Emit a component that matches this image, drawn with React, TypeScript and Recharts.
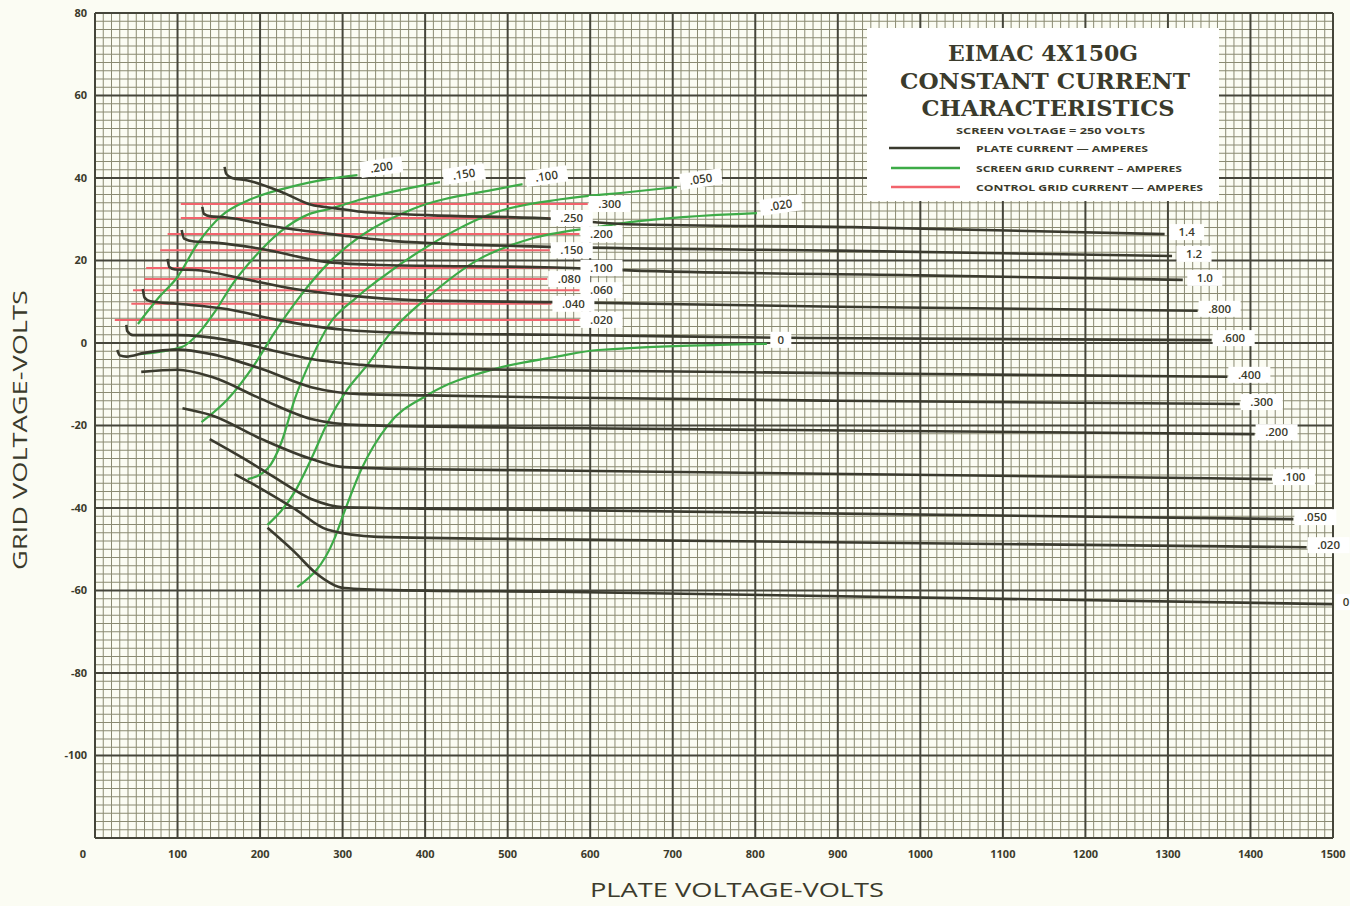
import React from 'react'
import { ComposedChart, Line, XAxis, YAxis, ReferenceLine, ReferenceDot } from 'recharts'

type Pt = [number, number]

// axis ticks
const X_TICKS = [0, 100, 200, 300, 400, 500, 600, 700, 800, 900, 1000, 1100, 1200, 1300, 1400, 1500]
const Y_TICKS = [-100, -80, -60, -40, -20, 0, 20, 40, 60, 80]

// plate current curves (plate volts, grid volts)
const plate14: Pt[] = [[157, 42.7], [159, 41.0], [166, 40.0], [185, 39.4], [226, 36.6], [262, 33.5], [290, 32.7], [323, 31.8], [403, 31.0], [557, 30.1], [644, 28.8], [917, 28.1], [1296, 26.4]]
const plate12: Pt[] = [[130, 33.0], [132, 31.3], [140, 30.7], [157, 30.5], [221, 28.1], [294, 26.2], [363, 24.7], [557, 23.3], [900, 22.4], [1305, 21.1]]
const plate10: Pt[] = [[105, 27.4], [108, 25.3], [120, 24.6], [141, 24.4], [202, 22.8], [282, 19.6], [347, 18.9], [557, 18.3], [647, 17.6], [1000, 16.4], [1318, 15.3]]
const plate800: Pt[] = [[88, 20.4], [90, 18.4], [97, 17.8], [121, 17.7], [181, 15.5], [242, 13.1], [302, 11.6], [384, 10.4], [557, 9.9], [900, 8.8], [1336, 7.8]]
const plate600: Pt[] = [[58, 13.1], [60, 11.0], [67, 10.1], [100, 9.5], [161, 8.2], [221, 5.6], [302, 3.2], [403, 2.3], [557, 2.0], [864, 1.2], [1353, 0.7]]
const plate400: Pt[] = [[38, 4.4], [39, 2.9], [46, 1.9], [100, 1.9], [161, 0.7], [209, -1.5], [262, -3.9], [323, -5.3], [403, -6.1], [557, -6.6], [900, -7.3], [1372, -8.2]]
const plate300: Pt[] = [[27, -1.7], [30, -3.0], [38, -3.3], [60, -2.4], [100, -1.6], [141, -2.7], [202, -6.3], [262, -10.7], [323, -12.4], [403, -12.7], [557, -13.2], [900, -14.0], [1387, -14.8]]
const plate200: Pt[] = [[56, -7.0], [100, -6.5], [141, -8.2], [202, -13.6], [262, -18.4], [323, -19.9], [557, -20.6], [1405, -22.1]]
const plate100: Pt[] = [[106, -15.8], [141, -17.5], [202, -23.3], [262, -28.1], [302, -30.1], [403, -30.6], [557, -30.9], [1426, -33.0]]
const plate050: Pt[] = [[139, -23.3], [181, -28.1], [221, -33.0], [262, -37.8], [302, -39.8], [557, -40.5], [1452, -42.7]]
const plate020: Pt[] = [[169, -31.8], [202, -35.4], [242, -40.2], [282, -45.3], [342, -47.0], [557, -47.6], [1468, -49.5]]
const plate0: Pt[] = [[209, -44.8], [242, -50.7], [266, -55.5], [302, -59.4], [363, -59.9], [557, -60.3], [1500, -63.3]]

const plateLabels = ['1.4', '1.2', '1.0', '.800', '.600', '.400', '.300', '.200', '.100', '.050', '.020', '0']
const plateCurves = [plate14, plate12, plate10, plate800, plate600, plate400, plate300, plate200, plate100, plate050, plate020, plate0]

// screen grid current curves
const screen200: Pt[] = [[52, 4.6], [78, 11.2], [100, 16.0], [124, 24.0], [153, 30.8], [187, 34.7], [236, 37.8], [284, 39.8], [318, 40.7]]
const screen150: Pt[] = [[54, -2.7], [105, -1.0], [127, 2.7], [145, 7.5], [166, 14.1], [190, 20.1], [224, 26.9], [260, 31.3], [284, 32.5], [324, 34.9], [418, 39.0]]
const screen100: Pt[] = [[129, -19.2], [161, -13.6], [193, -5.3], [218, 2.7], [248, 11.2], [284, 19.6], [324, 26.2], [385, 32.5], [487, 37.3], [518, 38.5]]
const screen050: Pt[] = [[185, -33.0], [209, -30.5], [226, -24.0], [242, -13.6], [262, -3.9], [284, 4.6], [315, 10.7], [345, 15.5], [406, 23.8], [487, 31.8], [567, 34.9], [648, 36.6], [705, 37.8]]
const screen020: Pt[] = [[209, -44.1], [242, -36.1], [262, -28.1], [282, -19.2], [306, -11.2], [330, -5.3], [359, 2.7], [406, 11.6], [466, 20.4], [527, 25.2], [608, 28.1], [648, 29.3], [802, 31.5]]
const screen0: Pt[] = [[245, -59.2], [290, -47.5], [302, -41.0], [323, -30.5], [355, -19.9], [403, -12.6], [484, -6.3], [557, -3.4], [610, -1.7], [814, -0.2]]

const screenLabels = ['.200', '.150', '.100', '.050', '.020', '0']
const screenCurves = [screen200, screen150, screen100, screen050, screen020, screen0]

// control grid current: flat lines
const ctrlLabels = ['.300', '.250', '.200', '.150', '.100', '.080', '.060', '.040', '.020']
const ctrlGridVolts = [33.7, 30.3, 26.4, 22.5, 18.2, 15.5, 12.8, 9.5, 5.6]
const ctrlStart = [104, 104, 88, 79, 62, 60, 46, 44, 24]
const ctrlEnd = [597, 551, 587, 551, 587, 548, 587, 553, 587]

const INK = '#3b3b2c'
const GRID_MINOR = '#8a8a72'
const GRID_MAJOR = '#45453a'
const PLATE = '#3a3a2e'
const GREEN = '#3dab47'
const RED = '#f2636c'
const PAPER = '#fbfcf3'
const FONT = '"Open Sans", "DejaVu Sans", sans-serif'

const rows = (pts: Pt[]) => pts.map(([v, g]) => ({ v, g }))

const minorX = Array.from({ length: 151 }, (_, i) => i * 10).filter((v) => v % 100 !== 0)
const majorX = Array.from({ length: 16 }, (_, i) => i * 100)
const minorY = Array.from({ length: 101 }, (_, i) => -120 + i * 2).filter((v) => v % 20 !== 0)
const majorY = Array.from({ length: 11 }, (_, i) => -120 + i * 20)

function Tag({ cx, cy, text, dx, dy, angle = 0 }: { cx: number; cy: number; text: string; dx: number; dy: number; angle?: number }) {
  const w = text.length * 7 + 14
  const x = cx + dx
  const y = cy + dy
  return (
    <g transform={`rotate(${angle} ${x} ${y})`}>
      <rect x={x - w / 2} y={y - 8} width={w} height={16} fill="#ffffff" />
      <text x={x} y={y} dy="0.35em" textAnchor="middle" fontFamily={FONT} fontWeight={600} fontSize={11.5} fill={INK}>
        {text}
      </text>
    </g>
  )
}

function XTick(props: any) {
  const { x, y, payload } = props
  const shift = payload.value === 0 ? -12 : 0
  return (
    <text x={x + shift} y={y + 4} dy="0.71em" textAnchor="middle" fontFamily={FONT} fontWeight={700} fontSize={11} fill={INK}>
      {payload.value}
    </text>
  )
}

function YTick(props: any) {
  const { x, y, payload } = props
  return (
    <text x={x} y={y} dy="0.35em" textAnchor="end" fontFamily={FONT} fontWeight={700} fontSize={11} fill={INK}>
      {payload.value}
    </text>
  )
}

function TitleBox() {
  return (
    <svg width={1350} height={906} style={{ position: 'absolute', left: 0, top: 0, pointerEvents: 'none' }}>
      <rect x={867} y={28} width={352} height={173} fill="#ffffff" />
      <g fontFamily='"DejaVu Serif", serif' fontWeight={700} fill={INK} textAnchor="middle">
        <text x={1043} y={61} fontSize={23} textLength={190} lengthAdjust="spacingAndGlyphs">EIMAC 4X150G</text>
        <text x={1045} y={89} fontSize={23} textLength={290} lengthAdjust="spacingAndGlyphs">CONSTANT CURRENT</text>
        <text x={1048} y={116} fontSize={23} textLength={253} lengthAdjust="spacingAndGlyphs">CHARACTERISTICS</text>
      </g>
      <g fontFamily={FONT} fontWeight={700} fill={INK} fontSize={9.5}>
        <text x={956} y={134} textLength={189} lengthAdjust="spacingAndGlyphs">SCREEN VOLTAGE = 250 VOLTS</text>
        <text x={976} y={152} textLength={172} lengthAdjust="spacingAndGlyphs">PLATE CURRENT — AMPERES</text>
        <text x={976} y={172} textLength={206} lengthAdjust="spacingAndGlyphs">SCREEN GRID CURRENT – AMPERES</text>
        <text x={976} y={191} textLength={227} lengthAdjust="spacingAndGlyphs">CONTROL GRID CURRENT — AMPERES</text>
      </g>
      <line x1={889} x2={960} y1={148} y2={148} stroke={PLATE} strokeWidth={2.5} />
      <line x1={891} x2={960} y1={168} y2={168} stroke={GREEN} strokeWidth={2.5} />
      <line x1={891} x2={960} y1={187} y2={187} stroke={RED} strokeWidth={2.5} />
    </svg>
  )
}

export default function App() {
  const ctrlRows = ctrlLabels.map((_, i) => [
    { v: ctrlStart[i], g: ctrlGridVolts[i] },
    { v: ctrlEnd[i], g: ctrlGridVolts[i] },
  ])

  return (
    <div style={{ position: 'absolute', left: 0, top: 0, width: 1350, height: 906, background: PAPER }}>
      <ComposedChart width={1350} height={906} margin={{ top: 13, right: 17, bottom: 0, left: 0 }}>
        <XAxis
          type="number"
          dataKey="v"
          domain={[0, 1500]}
          ticks={X_TICKS}
          height={68}
          axisLine={false}
          tickLine={false}
          tick={<XTick />}
          label={{
            content: () => (
              <text
                x={737}
                y={897}
                textAnchor="middle"
                fontFamily={FONT}
                fontSize={20}
                fill={INK}
                textLength={294}
                lengthAdjust="spacingAndGlyphs"
              >
                PLATE VOLTAGE-VOLTS
              </text>
            ),
          }}
        />
        <YAxis
          type="number"
          dataKey="g"
          domain={[-120, 80]}
          ticks={Y_TICKS}
          width={95}
          axisLine={false}
          tickLine={false}
          tick={<YTick />}
          label={{
            content: () => (
              <text
                x={27}
                y={430}
                transform="rotate(-90 27 430)"
                textAnchor="middle"
                fontFamily={FONT}
                fontSize={20}
                fill={INK}
                textLength={280}
                lengthAdjust="spacingAndGlyphs"
              >
                GRID VOLTAGE-VOLTS
              </text>
            ),
          }}
        />

        {minorX.map((v) => (
          <ReferenceLine key={'mx' + v} x={v} stroke={GRID_MINOR} strokeWidth={1} />
        ))}
        {minorY.map((g) => (
          <ReferenceLine key={'my' + g} y={g} stroke={GRID_MINOR} strokeWidth={1} />
        ))}
        {majorX.map((v) => (
          <ReferenceLine key={'MX' + v} x={v} stroke={GRID_MAJOR} strokeWidth={2} />
        ))}
        {majorY.map((g) => (
          <ReferenceLine key={'MY' + g} y={g} stroke={GRID_MAJOR} strokeWidth={2} />
        ))}

        {ctrlRows.map((d, i) => (
          <Line
            key={'c' + i}
            data={d}
            dataKey="g"
            type="linear"
            stroke={RED}
            strokeWidth={2}
            dot={false}
            isAnimationActive={false}
          />
        ))}
        {screenCurves.map((pts, i) => (
          <Line
            key={'s' + i}
            data={rows(pts)}
            dataKey="g"
            type="monotoneX"
            stroke={GREEN}
            strokeWidth={2.2}
            dot={false}
            isAnimationActive={false}
          />
        ))}
        {plateCurves.map((pts, i) => (
          <Line
            key={'p' + i}
            data={rows(pts)}
            dataKey="g"
            type="monotoneX"
            stroke={PLATE}
            strokeWidth={2.6}
            dot={false}
            isAnimationActive={false}
          />
        ))}

        {ctrlLabels.map((t, i) => (
          <ReferenceDot
            key={'cl' + i}
            x={ctrlEnd[i]}
            y={ctrlGridVolts[i]}
            r={0}
            shape={(p: any) => <Tag cx={p.cx} cy={p.cy} text={t} dx={22} dy={0} />}
          />
        ))}
        {screenCurves.map((pts, i) => {
          const [v, g] = pts[pts.length - 1]
          const last = i === screenCurves.length - 1
          return (
            <ReferenceDot
              key={'sl' + i}
              x={v}
              y={g}
              r={0}
              shape={(p: any) => (
                <Tag cx={p.cx} cy={p.cy} text={screenLabels[i]} dx={last ? 14 : 24} dy={last ? -4 : -8} angle={last ? 0 : -8} />
              )}
            />
          )
        })}
        {plateCurves.map((pts, i) => {
          const [v, g] = pts[pts.length - 1]
          return (
            <ReferenceDot
              key={'pl' + i}
              x={v}
              y={g}
              r={0}
              shape={(p: any) => <Tag cx={p.cx} cy={p.cy} text={plateLabels[i]} dx={i === plateLabels.length - 1 ? 13 : 22} dy={-2} />}
            />
          )
        })}
      </ComposedChart>
      <TitleBox />
    </div>
  )
}
